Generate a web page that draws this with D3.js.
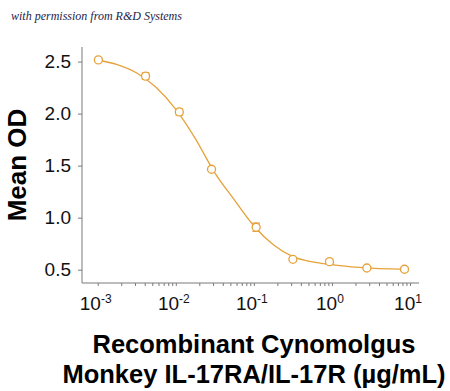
<!DOCTYPE html>
<html lang="en">
<head>
  <meta charset="UTF-8">
  <title>Mean OD vs Recombinant Cynomolgus Monkey IL-17RA/IL-17R</title>
</head>

<style>
body { margin: 0; background: white; }
text { font-family: Arial, "Liberation Sans", sans-serif; }
</style>

<body>

  <svg width="450" height="391"></svg>

  <script src="https://cdn.jsdelivr.net/npm/d3@7"></script>

  <script>

    // measured points (ug/mL, mean OD, error)
    var conc = [0.00102, 0.0041, 0.0111, 0.0287, 0.107, 0.316, 0.93, 2.8, 8.5]
    var od   = [2.516, 2.36, 2.016, 1.465, 0.908, 0.600, 0.577, 0.516, 0.504]
    var err  = [0.012, 0.03, 0.03, 0.012, 0.04, 0.015, 0.025, 0.012, 0.02]

    // fitted curve (log10 conc, OD)
    var fitLogConc = [-3.0, -2.75, -2.5, -2.25, -2.0, -1.75, -1.5, -1.25, -1.0, -0.75, -0.5, -0.25, 0.0, 0.25, 0.5, 0.75, 0.93]
    var fitOD      = [2.515, 2.47, 2.39, 2.25, 2.04, 1.76, 1.43, 1.17, 0.92, 0.74, 0.625, 0.575, 0.548, 0.527, 0.515, 0.508, 0.505]

    var yTicks = [0.5, 1.0, 1.5, 2.0, 2.5]
    var xTickExp = [-3, -2, -1, 0, 1]

    var orange = "#E6A23A"
    var axisColor = "#7a7a7a"

    var svg = d3.select("svg")

    var x = d3.scaleLog()
      .domain([Math.pow(10, -3.2013), Math.pow(10, 1.115)])
      .range([82, 419])

    var y = d3.scaleLinear()
      .domain([0.372, 2.64])
      .range([283, 47])

    // watermark
    svg.append("text")
      .attr("x", 11)
      .attr("y", 20)
      .style("font-family", "'Liberation Serif', 'DejaVu Serif', serif")
      .style("font-style", "italic")
      .style("font-size", "12px")
      .attr("fill", "#23234a")
      .text("with permission from R&D Systems")

    // y axis
    var yAxis = svg.append("g")
      .attr("transform", "translate(82,0)")
      .call(d3.axisLeft(y).tickValues(yTicks).tickFormat(d3.format(".1f")).tickSize(4).tickPadding(7))
    yAxis.select(".domain").attr("d", "M0,47V283").attr("stroke", axisColor)
    yAxis.selectAll(".tick line").attr("stroke", axisColor)
    yAxis.selectAll(".tick text")
      .style("font-size", "19px")
      .style("font-family", "Arial, 'Liberation Sans', sans-serif")
      .attr("fill", "#111")

    // x axis, minor ticks for 1..9 in each decade
    var minor = []
    xTickExp.forEach(function(e) {
      for (var k = 1; k < 10; k++) {
        var v = k * Math.pow(10, e)
        if (v >= x.domain()[0] && v <= x.domain()[1]) minor.push(v)
      }
    })
    var xAxis = svg.append("g")
      .attr("transform", "translate(0,283)")
      .call(d3.axisBottom(x).tickValues(minor).tickFormat("").tickSize(3))
    xAxis.select(".domain").attr("d", "M82,0H419").attr("stroke", axisColor)
    xAxis.selectAll(".tick line").attr("stroke", axisColor)

    var xLab = svg.append("g")
      .selectAll("text")
      .data(xTickExp)
      .enter()
      .append("text")
      .attr("x", function(d) { return x(Math.pow(10, d)) - 2; })
      .attr("y", 310)
      .attr("text-anchor", "middle")
      .style("font-size", "19px")
      .attr("fill", "#111")
    xLab.append("tspan").text("10")
    xLab.append("tspan")
      .attr("dy", -7)
      .style("font-size", "12px")
      .text(function(d) { return d; })

    // fitted curve
    var line = d3.line()
      .x(function(d, i) { return x(Math.pow(10, fitLogConc[i])); })
      .y(function(d) { return y(d); })
      .curve(d3.curveMonotoneX)

    svg.append("path")
      .datum(fitOD)
      .attr("d", line)
      .attr("fill", "none")
      .attr("stroke", orange)
      .attr("stroke-width", 1.3)

    // error bars + points
    var pts = svg.append("g")
      .selectAll("g")
      .data(conc)
      .enter()
      .append("g")
      .attr("stroke", orange)
      .attr("fill", "none")
      .attr("stroke-width", 1.3)

    pts.append("path")
      .attr("d", function(d, i) {
        var cx = x(d), t = y(od[i] + err[i]), b = y(od[i] - err[i])
        return "M" + cx + "," + t + "V" + b +
               "M" + (cx - 3.8) + "," + t + "H" + (cx + 3.8) +
               "M" + (cx - 3.8) + "," + b + "H" + (cx + 3.8)
      })

    pts.append("circle")
      .attr("cx", function(d) { return x(d); })
      .attr("cy", function(d, i) { return y(od[i]); })
      .attr("r", 4)
      .attr("fill", "white")

    // axis titles
    svg.append("text")
      .attr("transform", "translate(26,165) rotate(-90)")
      .attr("text-anchor", "middle")
      .style("font-size", "26px")
      .style("font-weight", "bold")
      .attr("fill", "#000")
      .text("Mean OD")

    svg.append("text")
      .attr("x", 254)
      .attr("y", 353)
      .attr("text-anchor", "middle")
      .style("font-size", "25.5px")
      .style("font-weight", "bold")
      .attr("fill", "#000")
      .text("Recombinant Cynomolgus")

    svg.append("text")
      .attr("x", 254)
      .attr("y", 383)
      .attr("text-anchor", "middle")
      .style("font-size", "25.5px")
      .style("font-weight", "bold")
      .attr("fill", "#000")
      .text("Monkey IL-17RA/IL-17R (\u00b5g/mL)")
  </script>

</body>
</html>
